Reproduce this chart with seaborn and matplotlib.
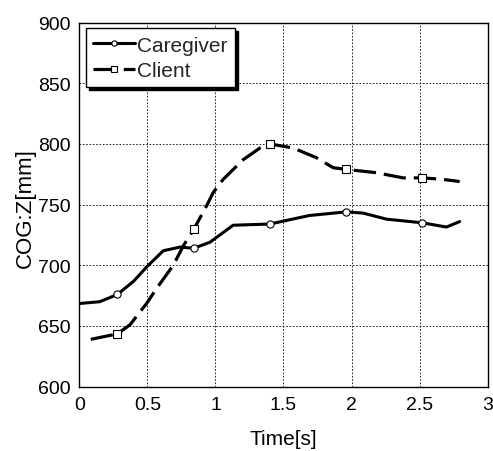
import matplotlib
matplotlib.use("Agg")
import matplotlib.pyplot as plt
import seaborn as sns
import pandas as pd

sns.set_theme(style="white")
plt.rcParams['font.family'] = ['Liberation Sans', 'DejaVu Sans']

# Caregiver (solid) trace
care_t = [0.0, 0.15, 0.28, 0.40, 0.495, 0.617, 0.74, 0.84, 0.96, 1.13, 1.40, 1.69, 1.96, 2.085, 2.257, 2.52, 2.698, 2.795]
care_z = [668.5, 670.0, 676.0, 687.0, 698.7, 712.0, 715.0, 714.0, 719.0, 733.0, 734.0, 741.0, 744.0, 743.0, 738.0, 735.0, 731.5, 736.0]
care_marks = [2, 7, 10, 12, 15]

# Client (dashed) trace
client_t = [0.084, 0.28, 0.372, 0.495, 0.568, 0.69, 0.764, 0.84, 0.935, 0.984, 1.057, 1.204, 1.327, 1.40, 1.571, 1.743, 1.865, 1.96, 2.18, 2.38, 2.52, 2.67, 2.795]
client_z = [639.0, 643.5, 651.0, 668.7, 681.0, 700.0, 716.0, 729.5, 749.0, 760.0, 770.8, 787.0, 796.6, 800.0, 796.6, 788.6, 780.4, 779.0, 776.3, 772.0, 772.0, 770.8, 769.0]
client_marks = [1, 7, 13, 17, 20]

x_ticks = [0, 0.5, 1, 1.5, 2, 2.5, 3]
x_ticklabels = ["0", "0.5", "1", "1.5", "2", "2.5", "3"]
y_ticks = [600, 650, 700, 750, 800, 850, 900]

care_df = pd.DataFrame({"t": care_t, "z": care_z})
client_df = pd.DataFrame({"t": client_t, "z": client_z})

fig = plt.figure(figsize=(4.93, 4.52), dpi=100)
ax = fig.add_axes([0.161, 0.1423, 0.828, 0.8057])

sns.lineplot(data=care_df, x="t", y="z", ax=ax, color="black", lw=2.2,
             marker="o", markevery=care_marks, markersize=5.2,
             markerfacecolor="white", markeredgecolor="black", markeredgewidth=0.8,
             label="Caregiver", sort=False, estimator=None)
sns.lineplot(data=client_df, x="t", y="z", ax=ax, color="black", lw=2.3,
             linestyle=(0, (7, 2.5)),
             marker="s", markevery=client_marks, markersize=5.2,
             markerfacecolor="white", markeredgecolor="black", markeredgewidth=0.8,
             label="Client", sort=False, estimator=None)

ax.set_xlim(0, 3)
ax.set_ylim(600, 900)
ax.set_xticks(x_ticks)
ax.set_xticklabels(x_ticklabels)
ax.set_yticks(y_ticks)
ax.grid(True, color="black", linestyle=(0, (2, 2)), linewidth=0.6)
ax.tick_params(axis="both", direction="in", length=4, labelsize=14, colors="black")
ax.tick_params(axis="x", pad=7)
ax.tick_params(axis="y", pad=6)
for s in ax.spines.values():
    s.set_color("black")
    s.set_linewidth(1.0)
ax.set_xlabel("Time[s]", fontsize=15, color="black")
ax.set_ylabel("COG:Z[mm]", fontsize=16, color="black")
ax.xaxis.set_label_coords(0.5, -0.1435)
ax.xaxis.label.set_va("center")
ax.yaxis.set_label_coords(-0.133, 0.4945)
ax.yaxis.label.set_va("center")

leg = ax.legend(loc="upper left", bbox_to_anchor=(0.0165, 0.984), borderaxespad=0,
                fontsize=15, frameon=True, fancybox=False, edgecolor="black",
                framealpha=1, shadow={"color": "black", "alpha": 1},
                handlelength=2.0, handletextpad=0.1, labelspacing=0.3,
                borderpad=0.35)
leg.get_frame().set_linewidth(1.0)
for h in leg.legend_handles:
    h.set_markersize(3.8)

fig.savefig("out.png", dpi=100)
